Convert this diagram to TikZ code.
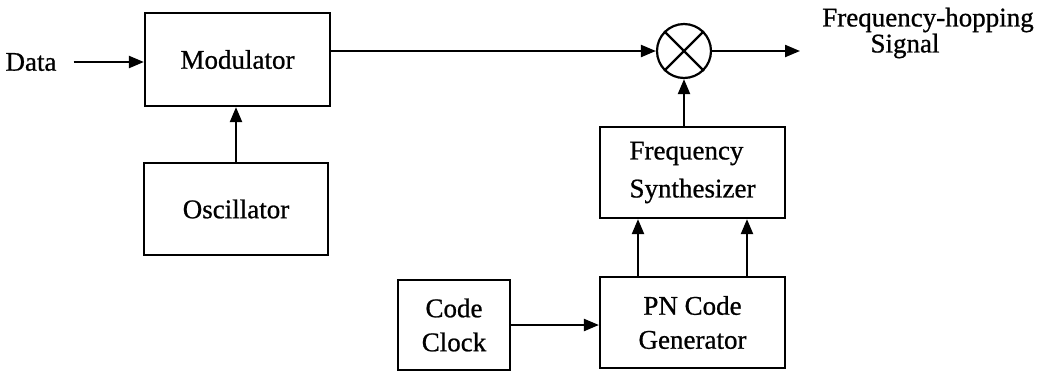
\documentclass[tikz,border=0pt]{standalone}
\usepackage{fontspec}
\setmainfont{Liberation Serif}[FakeBold=0.8]
\usetikzlibrary{arrows.meta}
\begin{document}
\begin{tikzpicture}[x=1pt,y=-1pt,
  box/.style={draw,line width=2.2pt,inner sep=0pt,font=\fontsize{27}{34}\selectfont},
  lbl/.style={inner sep=0pt,font=\fontsize{27}{34}\selectfont},
  arr/.style={line width=2.2pt,-{Triangle[length=15pt,width=12pt]}},
  wire/.style={line width=2.2pt}]
\useasboundingbox (0,0) rectangle (1050,376);
\node[box,minimum width=185pt,minimum height=93pt] (mod) at (237.5,59.5) {Modulator};
\node[box,minimum width=184pt,minimum height=92pt] (osc) at (236,209) {Oscillator};
\node[box,minimum width=185pt,minimum height=91pt,align=left,font=\fontsize{27}{38}\selectfont] (syn) at (692.5,172.5) {Frequency\\Synthesizer};
\node[box,minimum width=185pt,minimum height=91pt,align=center] (pn) at (692.5,322.5) {PN Code\\Generator};
\node[box,minimum width=112pt,minimum height=90pt,align=center] (clk) at (454,325) {Code\\Clock};
\node[draw,circle,line width=2.2pt,minimum size=54pt,inner sep=0pt] (mix) at (684,51) {};
\draw[wire] (mix.north west) -- (mix.south east) (mix.north east) -- (mix.south west);
\node[lbl] (data) at (31,62) {Data};
\node[lbl] (fh) at (928,20) {Frequency-hopping};
\node[lbl] (sig) at (905,46) {Signal};
\coordinate (outend) at (800,51);
\draw[arr] ([xshift=17pt]data.east) -- (mod.west |- data.east);
\draw[arr] (mod.east |- mix.west) -- (mix.west);
\draw[arr] (mix.east) -- (outend);
\draw[arr] (osc.north) -- (osc.north |- mod.south);
\draw[arr] (mix.south |- syn.north) -- (mix.south);
\draw[arr] ([xshift=-54.5pt]pn.north) -- ([xshift=-54.5pt]syn.south);
\draw[arr] ([xshift=54.5pt]pn.north) -- ([xshift=54.5pt]syn.south);
\draw[arr] (clk.east) -- (clk.east -| pn.west);
\end{tikzpicture}
\end{document}
